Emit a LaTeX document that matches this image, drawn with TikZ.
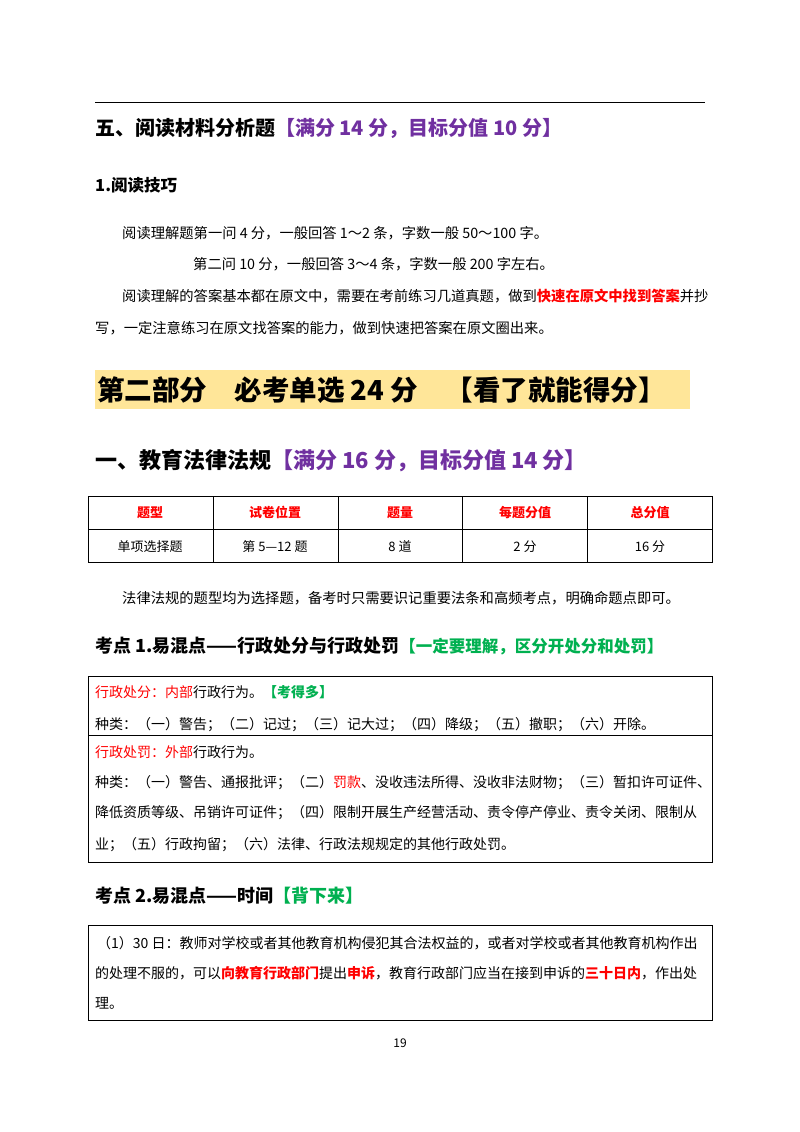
\documentclass[tikz,border=0pt]{standalone}
\usepackage{fontspec}
\setmainfont{Noto Sans CJK SC}
\definecolor{pur}{RGB}{112,48,160}
\definecolor{grn}{RGB}{0,176,80}
\definecolor{rd}{RGB}{255,0,0}
\definecolor{hl}{RGB}{255,230,153}
\newcommand{\bodyf}{\fontsize{14.3}{16}\selectfont}
\tikzset{tx/.style={anchor=base west,inner sep=0pt,font=\bodyf},
  bx/.style={anchor=base west,inner sep=0pt,font=\fontsize{14}{16}\selectfont},
  cc/.style={anchor=base,inner sep=0pt,font=\bodyf},
  frame/.style={draw=black,line width=0.8pt}}
\begin{document}
\begin{tikzpicture}[x=1pt,y=-1pt]
\useasboundingbox (0,0) rectangle (800,1132);
\draw[line width=0.8pt] (95,102) -- (705,102);
\node[tx,font=\fontsize{20}{22}\selectfont\bfseries] (h5) at (95,135) {五、阅读材料分析题\textcolor{pur}{【满分 14 分，目标分值 10 分】}};
\node[tx,font=\fontsize{16.5}{18}\selectfont\bfseries] (h51) at (95,191) {1.阅读技巧};
\node[tx] (p1) at (122,238) {阅读理解题第一问 4 分，一般回答 1～2 条，字数一般 50～100 字。};
\node[tx] (p2) at (193,269) {第二问 10 分，一般回答 3～4 条，字数一般 200 字左右。};
\node[tx] (p3) at (122,301) {阅读理解的答案基本都在原文中，需要在考前练习几道真题，做到\textcolor{rd}{\bfseries 快速在原文中找到答案}并抄};
\node[tx] (p4) at (95,333) {写，一定注意练习在原文找答案的能力，做到快速把答案在原文圈出来。};
\fill[hl] (95,370) rectangle (690,409);
\node[tx,font=\fontsize{27.5}{29}\selectfont\bfseries] (part2) at (97,400) {第二部分\quad 必考单选 24 分\quad【看了就能得分】};
\node[tx,font=\fontsize{22}{24}\selectfont\bfseries] (h1) at (95,468) {一、教育法律法规\textcolor{pur}{【满分 16 分，目标分值 14 分】}};
% table
\draw[frame] (88,496) rectangle (712,562);
\draw[frame] (88,529) -- (712,529);
\foreach \x in {213,338,462,587} \draw[frame] (\x,496) -- (\x,562);
\foreach \x/\t in {150/题型,275/试卷位置,400/题量,525/每题分值,650/总分值}
  \node[cc,text=rd,font=\fontsize{13}{15}\selectfont\bfseries] at (\x,517) {\t};
\foreach \x/\t in {150/单项选择题,275/第 5—12 题,400/8 道,525/2 分,650/16 分}
  \node[cc,font=\fontsize{13}{15}\selectfont] at (\x,551) {\t};
\node[tx] (p5) at (122,603) {法律法规的题型均为选择题，备考时只需要识记重要法条和高频考点，明确命题点即可。};
\node[tx,font=\fontsize{18}{20}\selectfont\bfseries] (k1) at (95,652) {考点 1.易混点——行政处分与行政处罚\textcolor{grn}{\fontsize{16.5}{18}\selectfont【一定要理解，区分开处分和处罚】}};
% box 1
\draw[frame] (88,676) rectangle (712,862);
\draw[frame] (88,735) -- (712,735);
\node[bx] at (95,697) {\textcolor{rd}{行政处分：内部}行政行为。\textcolor{grn}{\bfseries【考得多】}};
\node[bx] at (95,729) {种类：（一）警告；（二）记过；（三）记大过；（四）降级；（五）撤职；（六）开除。};
\node[bx] at (95,757) {\textcolor{rd}{行政处罚：外部}行政行为。};
\node[bx] at (95,787) {种类：（一）警告、通报批评；（二）\textcolor{rd}{罚款}、没收违法所得、没收非法财物；（三）暂扣许可证件、};
\node[bx] at (95,817) {降低资质等级、吊销许可证件；（四）限制开展生产经营活动、责令停产停业、责令关闭、限制从};
\node[bx] at (95,849) {业；（五）行政拘留；（六）法律、行政法规规定的其他行政处罚。};
\node[tx,font=\fontsize{18}{20}\selectfont\bfseries] (k2) at (95,902) {考点 2.易混点——时间\textcolor{grn}{【背下来】}};
% box 2
\draw[frame] (88,925) rectangle (712,1020);
\node[bx] at (97,948) {（1）30 日：教师对学校或者其他教育机构侵犯其合法权益的，或者对学校或者其他教育机构作出};
\node[bx] at (95,978) {的处理不服的，可以\textcolor{rd}{\bfseries 向教育行政部门}提出\textcolor{rd}{\bfseries 申诉}，教育行政部门应当在接到申诉的\textcolor{rd}{\bfseries 三十日内}，作出处};
\node[bx] at (95,1008) {理。};
\node[cc,font=\fontsize{12}{14}\selectfont] (pg) at (400,1047) {19};
\end{tikzpicture}
\end{document}
